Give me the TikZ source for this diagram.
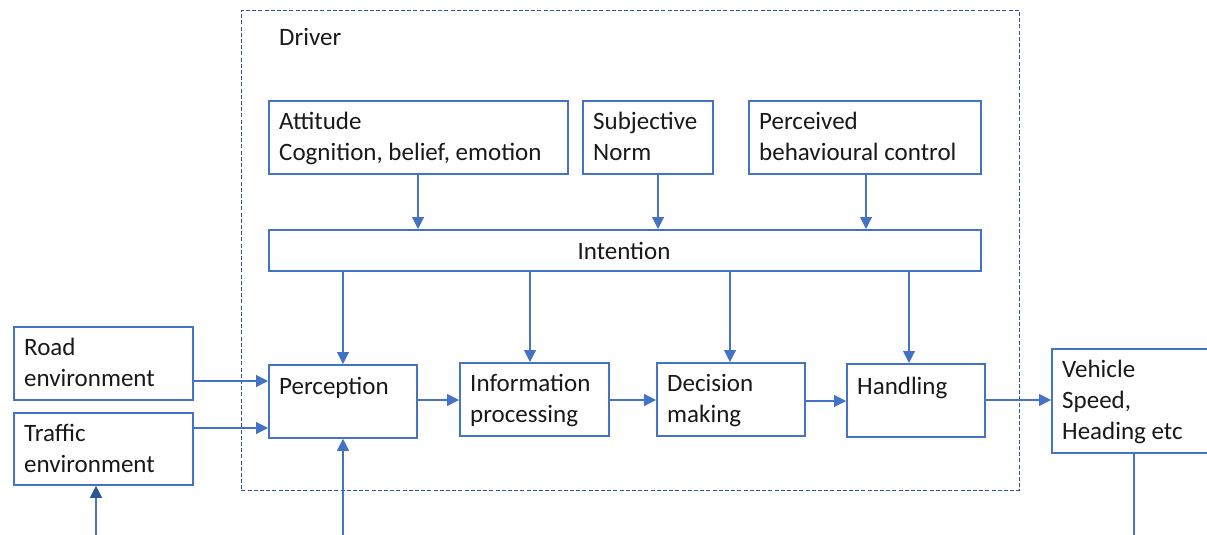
\documentclass[tikz,border=0pt]{standalone}
\usepackage{fontspec}
\setmainfont{Carlito}
\usetikzlibrary{arrows.meta,calc}
\definecolor{boxblue}{RGB}{68,114,196}
\definecolor{dashblue}{RGB}{47,85,151}
\definecolor{txtcol}{RGB}{25,25,25}
\begin{document}
\begin{tikzpicture}[x=1pt,y=-1pt,
  box/.style={draw=boxblue,line width=1.8pt,fill=white,inner sep=0pt,anchor=north west},
  txt/.style={inner sep=0pt,anchor=base west,align=left,text=txtcol,font=\fontsize{25}{31}\selectfont},
  arr/.style={draw=boxblue,line width=1.1pt,-{Triangle[length=12pt,width=12pt]}},
  plain/.style={draw=boxblue,line width=1.1pt},
  driverbox/.style={draw=dashblue,line width=0.9pt,dash pattern=on 4pt off 2.2pt}]
\useasboundingbox (0,0) rectangle (1207,535);
\clip (0,0) rectangle (1207,535);
% driver frame
\node[driverbox,inner sep=0pt,anchor=north west,minimum width=778pt,minimum height=480pt] (drv) at (241,10) {};
\node[txt] (drvt) at (279,46) {Driver};
% boxes
\node[box,minimum width=299pt,minimum height=73pt] (att) at (268,100) {};
\node[box,minimum width=130pt,minimum height=73pt] (sub) at (582,100) {};
\node[box,minimum width=232pt,minimum height=73pt] (per) at (748,100) {};
\node[box,minimum width=712pt,minimum height=41pt] (int) at (268,229) {};
\node[box,minimum width=148pt,minimum height=73pt] (perc) at (268,364) {};
\node[box,minimum width=149pt,minimum height=73pt] (info) at (459,362) {};
\node[box,minimum width=148pt,minimum height=73pt] (dec) at (656,362) {};
\node[box,minimum width=138pt,minimum height=73pt] (hand) at (846,363) {};
\node[box,minimum width=164pt,minimum height=104pt] (veh) at (1051,348) {};
\node[box,minimum width=179pt,minimum height=73pt] (road) at (13,326) {};
\node[box,minimum width=179pt,minimum height=72pt] (traf) at (13,412) {};
% texts
\node[txt] (attt) at (279,160) {Attitude\\Cognition, belief, emotion};
\node[txt] (subt) at (593,160) {Subjective\\Norm};
\node[txt] (pert) at (759,160) {Perceived\\behavioural control};
\node[txt,anchor=base] (intt) at (624,259) {Intention};
\node[txt] (perct) at (279,394) {Perception};
\node[txt] (infot) at (470,422) {Information\\processing};
\node[txt] (dect) at (667,422) {Decision\\making};
\node[txt] (handt) at (857,394) {Handling};
\node[txt] (veht) at (1062,439) {Vehicle\\Speed,\\Heading etc};
\node[txt] (roadt) at (24,386) {Road\\environment};
\node[txt] (traft) at (24,472) {Traffic\\environment};
% arrows into intention
\draw[arr] (att.south -| 418,0) -- (int.north -| 418,0);
\draw[arr] (sub.south -| 658,0) -- (int.north -| 658,0);
\draw[arr] (per.south -| 866,0) -- (int.north -| 866,0);
% arrows from intention
\draw[arr] (int.south -| 343,0) -- (perc.north -| 343,0);
\draw[arr] (int.south -| 530,0) -- (info.north -| 530,0);
\draw[arr] (int.south -| 730,0) -- (dec.north -| 730,0);
\draw[arr] (int.south -| 909,0) -- (hand.north -| 909,0);
% horizontal chain
\draw[arr] (road.east |- 0,381) -- (perc.west |- 0,381);
\draw[arr] (traf.east |- 0,428) -- (perc.west |- 0,428);
\draw[arr] (perc.east |- 0,400) -- (info.west |- 0,400);
\draw[arr] (info.east |- 0,400) -- (dec.west |- 0,400);
\draw[arr] (dec.east |- 0,401) -- (hand.west |- 0,401);
\draw[arr] (hand.east |- 0,400) -- (veh.west |- 0,400);
% bottom connectors
\coordinate (b1) at (96,535);
\coordinate (b2) at (343,535);
\coordinate (b3) at (1134,535);
\draw[arr,-{Triangle[length=12pt,width=12pt,fill=dashblue,color=dashblue]}] (b1) -- (traf.south -| b1);
\draw[arr] (b2) -- (perc.south -| b2);
\draw[plain] (veh.south -| b3) -- (b3);
\end{tikzpicture}
\end{document}
